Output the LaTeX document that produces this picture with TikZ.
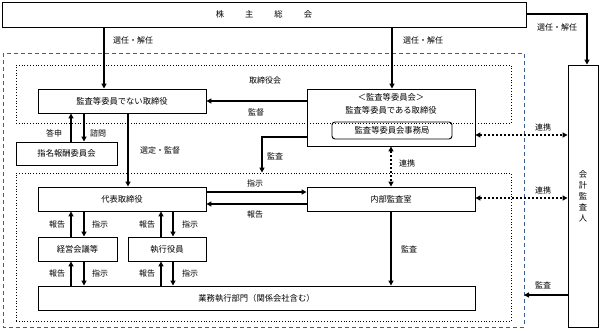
\documentclass[tikz,border=0pt]{standalone}
\usepackage{fontspec}
\newfontfamily\jp{Noto Sans CJK JP}
\usetikzlibrary{arrows.meta}
\definecolor{dblue}{HTML}{3A5F95}
\tikzset{
  box/.style={draw, line width=0.9pt, inner sep=0pt, anchor=center, font=\jp\fontsize{8.3}{10}\selectfont},
  lbl/.style={font=\jp\fontsize{8}{10}\selectfont, inner sep=0pt},
  arr/.style={line width=1.6pt, -{Triangle[length=5pt,width=5pt]}},
  darr/.style={line width=2pt, dash pattern=on 2pt off 2pt, {Triangle[length=5pt,width=5pt]}-{Triangle[length=5pt,width=5pt]}},
  frame/.style={line width=0.8pt},
}
\begin{document}
\begin{tikzpicture}[x=1pt,y=-1pt]
\useasboundingbox (0,0) rectangle (600,331);
% group frames
\draw[frame, dblue, dash pattern=on 4pt off 3pt] (3,53) rectangle (524,327);
\node[draw, dotted, line width=0.8pt, minimum width=495pt, minimum height=58pt, inner sep=0pt] (bd) at (263.5,94) {};
\node[draw, dotted, line width=0.8pt, minimum width=495pt, minimum height=148pt, inner sep=0pt] (ex) at (263.5,247) {};
\node[lbl] (bdl) at (265,80) {取締役会};
% boxes
\node[box, minimum width=524pt, minimum height=25pt] (kabu) at (264,14.5) {株\hspace{21pt}主\hspace{21pt}総\hspace{21pt}会};
\node[box, minimum width=30pt, minimum height=262pt, align=center, font=\jp\fontsize{8.3}{11}\selectfont] (kk) at (583,196) {会\\計\\監\\査\\人};
\node[box, minimum width=168pt, minimum height=24pt] (nd) at (122,101) {監査等委員でない取締役};
\node[box, minimum width=168pt, minimum height=57pt] (ac) at (391,117.5) {};
\node[lbl, font=\jp\fontsize{8.3}{10}\selectfont] (act1) at (391,97) {＜監査等委員会＞};
\node[lbl, font=\jp\fontsize{8.3}{10}\selectfont] (act2) at (391,110) {監査等委員である取締役};
\node[box, rounded corners=3pt, minimum width=120pt, minimum height=17pt] (aco) at (392,130.5) {監査等委員会事務局};
\node[box, minimum width=101pt, minimum height=23pt] (nom) at (66.5,153.5) {指名報酬委員会};
\node[box, minimum width=168pt, minimum height=24pt] (rep) at (122,199) {代表取締役};
\node[box, minimum width=168pt, minimum height=24pt] (ia) at (391,199) {内部監査室};
\node[box, minimum width=79pt, minimum height=24pt] (mg) at (77.5,249) {経営会議等};
\node[box, minimum width=78pt, minimum height=24pt] (eo) at (167,249) {執行役員};
\node[box, minimum width=437pt, minimum height=24pt] (ops) at (256.5,298) {業務執行部門（関係会社含む）};
% x reference coordinates
\coordinate (xa) at (104,0);
\coordinate (xb) at (392,0);
\coordinate (xc) at (587,0);
\coordinate (x71) at (71,0);
\coordinate (x84) at (84,0);
\coordinate (x128) at (128,0);
\coordinate (x161) at (161,0);
\coordinate (x173) at (173,0);
\coordinate (x262) at (262,0);
\coordinate (x391) at (391,0);
\coordinate (y14) at (0,14);
\coordinate (y101) at (0,101);
\coordinate (y137) at (0,137);
\coordinate (y135) at (0,135);
\coordinate (y192) at (0,192);
\coordinate (y198) at (0,198);
\coordinate (y204) at (0,204);
\coordinate (y295) at (0,295);
\coordinate (be) at (524,295);
% arrows
\draw[arr] (kabu.south -| xa) -- (nd.north -| xa);
\node[lbl] (l1) at (133,40) {選任・解任};
\draw[arr] (kabu.south -| xb) -- (ac.north -| xb);
\node[lbl] (l2) at (423,40) {選任・解任};
\draw[arr] (kabu.east |- y14) -- (xc |- y14) -- (kk.north -| xc);
\node[lbl] (l3) at (557,27) {選任・解任};
\draw[arr] (ac.west |- y101) -- (nd.east |- y101);
\node[lbl] (l4) at (256,112) {監督};
\draw[arr] (nom.north -| x71) -- (nd.south -| x71);
\draw[arr] (nd.south -| x84) -- (nom.north -| x84);
\node[lbl] (l5) at (54,133) {答申};
\node[lbl] (l6) at (98,133) {諮問};
\draw[arr] (nd.south -| x128) -- (rep.north -| x128);
\node[lbl] (l7) at (160,150) {選定・監督};
\draw[arr] (ac.west |- y137) -- (x262 |- y137) -- (ex.north -| x262);
\node[lbl] (l8) at (275,156) {監査};
\draw[arr] (rep.east |- y192) -- (ia.west |- y192);
\node[lbl] (l9) at (255,183) {指示};
\draw[arr] (ia.west |- y204) -- (rep.east |- y204);
\node[lbl] (l10) at (255,214) {報告};
\draw[darr] (ac.south -| x391) -- (ia.north -| x391);
\node[lbl] (l11) at (407,163) {連携};
\draw[darr] (ac.east |- y135) -- (kk.west |- y135);
\node[lbl] (l12) at (543,127) {連携};
\draw[darr] (ia.east |- y198) -- (kk.west |- y198);
\node[lbl] (l13) at (543,190) {連携};
% rep <-> mg / eo
\draw[arr] (mg.north -| x71) -- (rep.south -| x71);
\draw[arr] (rep.south -| x84) -- (mg.north -| x84);
\draw[arr] (eo.north -| x161) -- (rep.south -| x161);
\draw[arr] (rep.south -| x173) -- (eo.north -| x173);
\node[lbl] (l14) at (57,224) {報告};
\node[lbl] (l15) at (100,224) {指示};
\node[lbl] (l16) at (147,224) {報告};
\node[lbl] (l17) at (190,224) {指示};
% mg/eo <-> ops
\draw[arr] (ops.north -| x71) -- (mg.south -| x71);
\draw[arr] (mg.south -| x84) -- (ops.north -| x84);
\draw[arr] (ops.north -| x161) -- (eo.south -| x161);
\draw[arr] (eo.south -| x173) -- (ops.north -| x173);
\node[lbl] (l18) at (57,273) {報告};
\node[lbl] (l19) at (100,273) {指示};
\node[lbl] (l20) at (147,273) {報告};
\node[lbl] (l21) at (190,273) {指示};
\draw[arr] (ia.south -| x391) -- (ops.north -| x391);
\node[lbl] (l22) at (409,249) {監査};
\draw[arr] (kk.west |- y295) -- (be);
\node[lbl] (l23) at (543,285) {監査};
\end{tikzpicture}
\end{document}
